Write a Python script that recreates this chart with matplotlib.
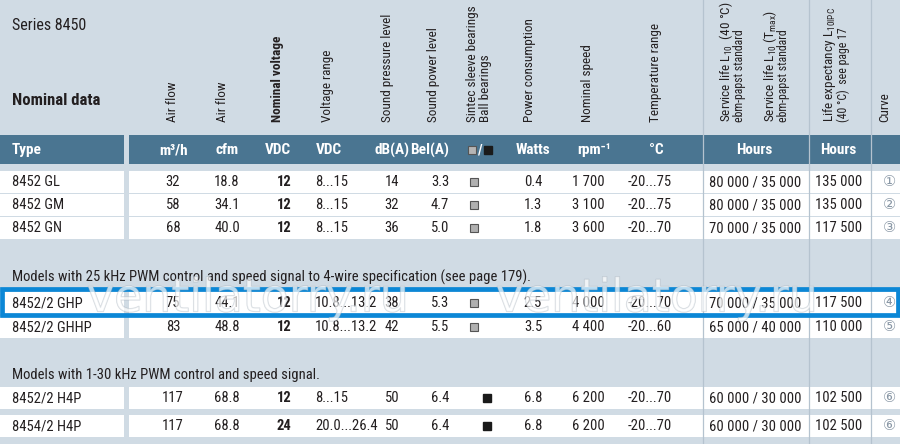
import matplotlib
matplotlib.use('Agg')
import matplotlib.pyplot as plt
from matplotlib.patches import Rectangle
import matplotlib.patheffects as pe

plt.rcParams['font.family'] = ['Roboto Condensed', 'DejaVu Sans']
plt.rcParams['mathtext.fontset'] = 'custom'
plt.rcParams['mathtext.rm'] = 'Roboto Condensed'
plt.rcParams['mathtext.it'] = 'Roboto Condensed'

# table data
types = ['8452 GL', '8452 GM', '8452 GN', '8452/2 GHP', '8452/2 GHHP', '8452/2 H4P', '8454/2 H4P']
airflow_m3h = ['32', '58', '68', '75', '83', '117', '117']
airflow_cfm = ['18.8', '34.1', '40.0', '44.1', '48.8', '68.8', '68.8']
nominal_v = ['12', '12', '12', '12', '12', '12', '24']
v_range = ['8...15', '8...15', '8...15', '10.8...13.2', '10.8...13.2', '8...15', '20.0...26.4']
spl = ['14', '32', '36', '38', '42', '50', '50']
swl = ['3.3', '4.7', '5.0', '5.3', '5.5', '6.4', '6.4']
bearing = ['sleeve', 'sleeve', 'sleeve', 'sleeve', 'sleeve', 'ball', 'ball']
power = ['0.4', '1.3', '1.8', '2.5', '3.5', '6.8', '6.8']
speed = ['1 700', '3 100', '3 600', '4 000', '4 400', '6 200', '6 200']
temp = ['-20...75', '-20...75', '-20...70', '-20...70', '-20...60', '-20...70', '-20...70']
service = ['80 000 / 35 000', '80 000 / 35 000', '70 000 / 35 000', '70 000 / 35 000',
           '65 000 / 40 000', '60 000 / 30 000', '60 000 / 30 000']
life = ['135 000', '135 000', '117 500', '117 500', '110 000', '102 500', '102 500']
curve = ['①', '②', '③', '④', '⑤', '⑥', '⑥']

sections = ['Models with 25 kHz PWM control and speed signal to 4-wire specification (see page 179).',
            'Models with 1-30 kHz PWM control and speed signal.']
highlight = '8452/2 GHP'

headers = ['Air flow', 'Air flow', 'Nominal voltage', 'Voltage range', 'Sound pressure level',
           'Sound power level', 'Sintec sleeve bearings\nBall bearings', 'Power consumption',
           'Nominal speed', 'Temperature range']
units = ['m³/h', 'cfm', 'VDC', 'VDC', 'dB(A)', 'Bel(A)', '', 'Watts', 'rpm⁻¹', '°C']

# layout
BG = '#d0dbe4'
BAND = '#4a7591'
INK = '#231f20'
row_top = [171, 194, 217, 292, 316, 387, 415]
row_h = 22
head_x = [173, 222, 277, 328, 388, 433, 479, 530, 587, 655]
unit_x = [174, 227, 278, 329, 392, 430, 480, 533, 594, 656]
section_y = [277, 375]

fig = plt.figure(figsize=(9, 4.44), dpi=100)
fig.patch.set_facecolor(BG)
ax = fig.add_axes([0, 0, 1, 1])
ax.set_xlim(0, 900)
ax.set_ylim(444, 0)
ax.axis('off')

ax.text(12, 25, 'Series 8450', fontsize=11.5, color=INK, va='center')
ax.text(12, 100, 'Nominal data', fontsize=12, fontweight='bold', color=INK, va='center')

# rotated column headers
hs = 9.5
for i, h in enumerate(headers):
    ax.text(head_x[i], 122, h, rotation=90, ha='center', va='bottom', multialignment='left',
            fontsize=hs, color=INK, linespacing=0.95,
            fontweight='bold' if h == 'Nominal voltage' else 'normal')
ax.text(726, 122, 'Service life L$_{10}$  (40 °C)', rotation=90, ha='center', va='bottom', fontsize=hs, color=INK)
ax.text(740, 122, 'ebm-papst standard', rotation=90, ha='center', va='bottom', fontsize=8.5, color=INK)
ax.text(770, 122, 'Service life L$_{10}$ (T$_{max}$)', rotation=90, ha='center', va='bottom', fontsize=hs, color=INK)
ax.text(783, 122, 'ebm-papst standard', rotation=90, ha='center', va='bottom', fontsize=8.5, color=INK)
ax.text(829, 122, 'Life expectancy $\\mathregular{L_{10IPC}}$', rotation=90, ha='center', va='bottom', fontsize=hs, color=INK)
ax.text(843, 122, '(40 °C)  see page 17', rotation=90, ha='center', va='bottom', fontsize=8.5, color=INK)
ax.text(885, 122, 'Curve', rotation=90, ha='center', va='bottom', fontsize=hs, color=INK)

# header band
ax.add_patch(Rectangle((0, 135), 124, 29, color=BAND, lw=0))
ax.add_patch(Rectangle((129, 135), 771, 29, color=BAND, lw=0))
ax.text(12, 150, 'Type', fontsize=11, fontweight='bold', color='white', va='center')
for i, u in enumerate(units):
    if u:
        ax.text(unit_x[i], 150, u, fontsize=11, fontweight='bold', color='white', ha='center', va='center')
ax.plot([472], [150], marker='s', ms=5.5, mfc='#b5b5b5', mec='#555555', mew=0.8)
ax.text(480, 150, '/', fontsize=10, color='white', ha='center', va='center', fontweight='bold')
ax.plot([488], [150], marker='s', ms=6, mfc='#1a1a1a', mec='#1a1a1a')
ax.text(754, 150, 'Hours', fontsize=11, fontweight='bold', color='white', ha='center', va='center')
ax.text(838, 150, 'Hours', fontsize=11, fontweight='bold', color='white', ha='center', va='center')

# section captions
for s, y in zip(sections, section_y):
    ax.text(12, y, s, fontsize=10.5, color=INK, va='center')

# rows
fs = 10.5
for i in range(len(types)):
    top = row_top[i]
    y = top + row_h / 2
    ax.add_patch(Rectangle((0, top), 124, row_h, color='white', lw=0))
    ax.add_patch(Rectangle((129, top), 771, row_h, color='white', lw=0))
    ax.text(12, y, types[i], fontsize=fs, color=INK, va='center')
    ax.text(173, y, airflow_m3h[i], fontsize=fs, color=INK, ha='center', va='center')
    ax.text(227, y, airflow_cfm[i], fontsize=fs, color=INK, ha='center', va='center')
    ax.text(284, y, nominal_v[i], fontsize=fs, color=INK, ha='center', va='center', fontweight='bold')
    ax.text(315, y, v_range[i], fontsize=fs, color=INK, ha='left', va='center')
    ax.text(392, y, spl[i], fontsize=fs, color=INK, ha='center', va='center')
    ax.text(440, y, swl[i], fontsize=fs, color=INK, ha='center', va='center')
    if bearing[i] == 'sleeve':
        ax.plot([474], [y], marker='s', ms=5.5, mfc='#b0b0b0', mec='#555555', mew=0.8)
    else:
        ax.plot([487], [y], marker='s', ms=6, mfc='#1a1a1a', mec='#1a1a1a')
    ax.text(533, y, power[i], fontsize=fs, color=INK, ha='center', va='center')
    ax.text(588, y, speed[i], fontsize=fs, color=INK, ha='center', va='center')
    ax.text(650, y, temp[i], fontsize=fs, color=INK, ha='center', va='center')
    ax.text(755, y, service[i], fontsize=fs, color=INK, ha='center', va='center')
    ax.text(839, y, life[i], fontsize=fs, color=INK, ha='center', va='center')
    ax.text(889, y - 1, curve[i], fontsize=10.5, color='#8a98a6', ha='center', va='center',
            family=['DejaVu Sans'])
    if types[i] == highlight:
        ax.add_patch(Rectangle((2, top - 3), 896, row_h + 4, fill=False, ec='#0b87d6', lw=3.4, zorder=5))

# column separators
for x in [703, 809, 871]:
    ax.plot([x, x], [0, 444], color='#b5c3cf', lw=0.9, zorder=1)

# watermark
for x in [248, 657]:
    ax.text(x, 299, 'ventilatorry.ru', fontsize=33, ha='center', va='center', color='white', alpha=0.45,
            family=['DejaVu Sans'], zorder=6,
            path_effects=[pe.withStroke(linewidth=0.9, foreground='#a3afba')])

fig.savefig('out.png', dpi=100, facecolor=BG)
